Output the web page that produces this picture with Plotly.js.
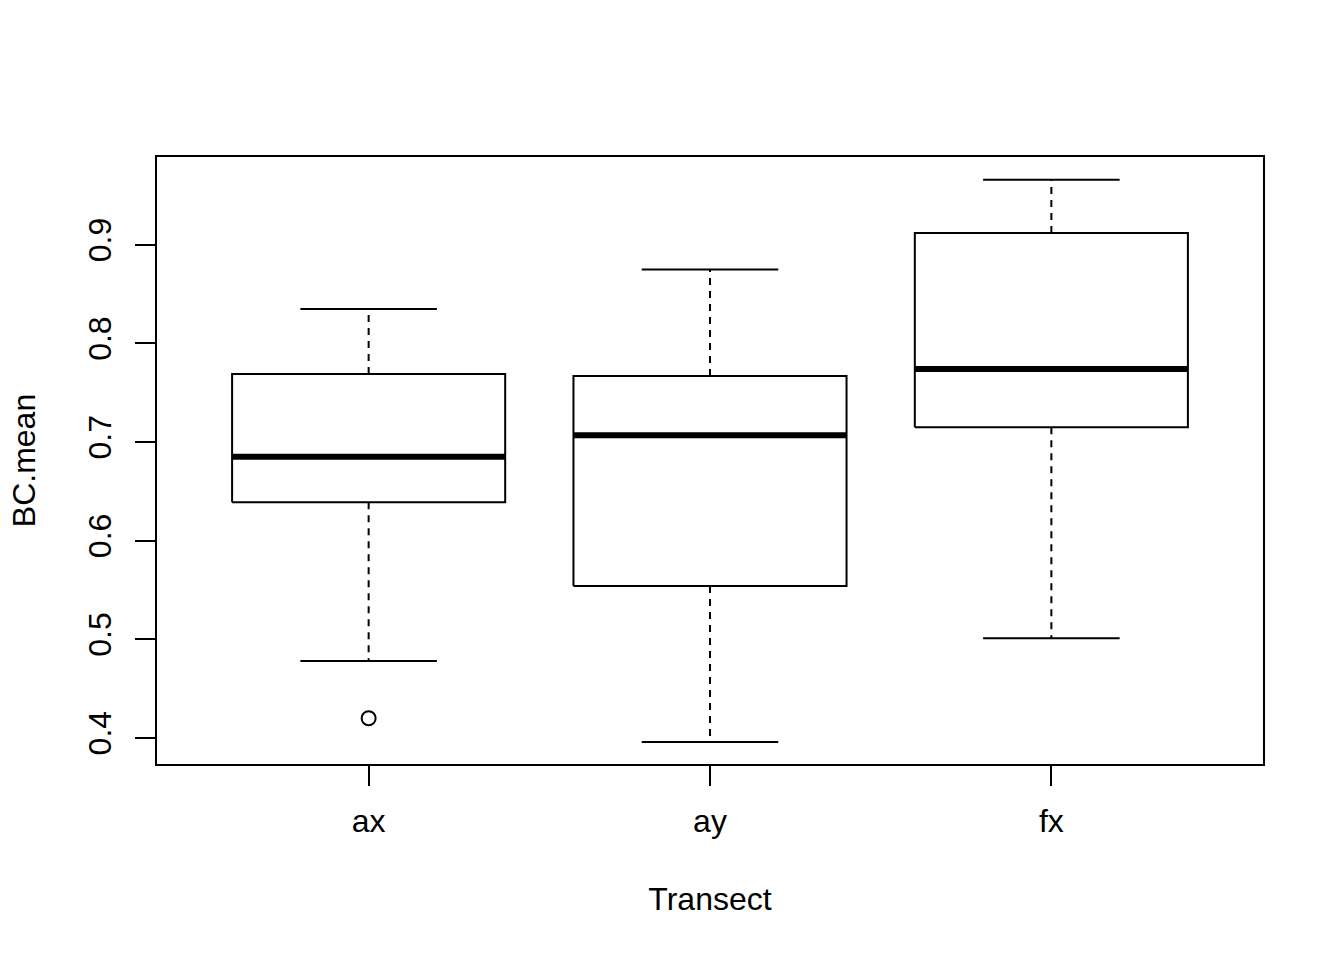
<!DOCTYPE html>
<html><head><meta charset="utf-8">
<script src="https://cdn.plot.ly/plotly-3.0.1.min.js"></script>
<style>body{margin:0;background:#fff}#c{width:1344px;height:960px}</style>
</head><body><div id="c"></div>
<script>
const categories = ["ax", "ay", "fx"];
const positions = [1, 2, 3];
const lowerWhisker = [0.478, 0.396, 0.501];
const q1 = [0.639, 0.554, 0.715];
const median = [0.685, 0.707, 0.774];
const q3 = [0.769, 0.767, 0.912];
const upperWhisker = [0.835, 0.875, 0.966];
const outlierGroup = ["ax"];
const outlierValue = [0.420];

const halfBox = 0.4, halfCap = 0.2;
const traces = [];
const blk = 'black';
categories.forEach((c, i) => {
  const p = positions[i];
  traces.push({type:'scatter', mode:'lines', hoverinfo:'skip', showlegend:false,
    x:[p-halfBox,p+halfBox,p+halfBox,p-halfBox,p-halfBox],
    y:[q1[i],q1[i],q3[i],q3[i],q1[i]], line:{color:blk,width:2}});
  traces.push({type:'scatter', mode:'lines', hoverinfo:'skip', showlegend:false,
    x:[p,p,null,p,p], y:[q3[i],upperWhisker[i],null,q1[i],lowerWhisker[i]],
    line:{color:blk,width:2,dash:'7px,6px'}});
  traces.push({type:'scatter', mode:'lines', hoverinfo:'skip', showlegend:false,
    x:[p-halfCap,p+halfCap,null,p-halfCap,p+halfCap],
    y:[upperWhisker[i],upperWhisker[i],null,lowerWhisker[i],lowerWhisker[i]],
    line:{color:blk,width:2}});
  traces.push({type:'scatter', mode:'lines', hoverinfo:'skip', showlegend:false,
    x:[p-halfBox,p+halfBox], y:[median[i],median[i]], line:{color:blk,width:6}});
});
traces.push({type:'scatter', mode:'markers', showlegend:false,
  x: outlierGroup.map(g => positions[categories.indexOf(g)]), y: outlierValue,
  marker:{symbol:'circle-open', size:14, color:blk, line:{width:2,color:blk}}});

const font = {family:'"Liberation Sans", Arial, sans-serif', size:32, color:'black'};
const layout = {
  width:1344, height:960, paper_bgcolor:'white', plot_bgcolor:'white',
  margin:{l:157, r:81, t:157, b:196},
  font: font,
  showlegend:false,
  xaxis:{range:[0.38,3.62], tickvals:positions, ticktext:categories, ticks:'outside',
    ticklen:20, tickwidth:2, tickcolor:blk, showline:true, mirror:true, linecolor:blk, linewidth:2,
    showgrid:false, zeroline:false, ticklabelstandoff:8, tickfont:font,
    title:{text:'Transect', font:font, standoff:49}},
  yaxis:{range:[0.3736,0.989], tickvals:[0.4,0.5,0.6,0.7,0.8,0.9], tickangle:-90,
    ticks:'outside', ticklen:20, tickwidth:2, tickcolor:blk, showline:true, mirror:true,
    linecolor:blk, linewidth:2, showgrid:false, zeroline:false, ticklabelstandoff:11, tickfont:font,
    title:{text:'BC.mean', font:font, standoff:37}}
};
Plotly.newPlot('c', traces, layout, {staticPlot:true, displayModeBar:false});
</script></body></html>
